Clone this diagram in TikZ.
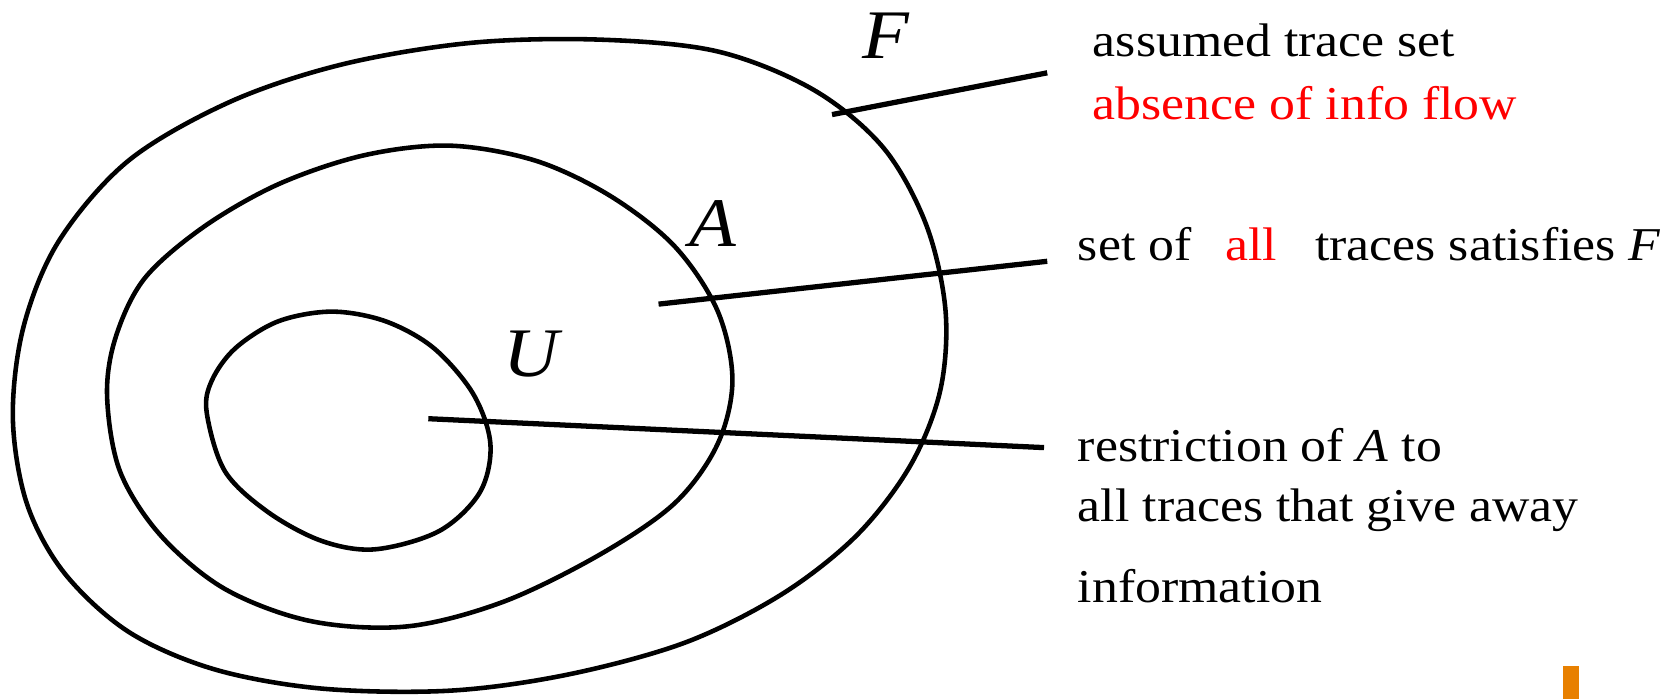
\documentclass[tikz,border=0pt]{standalone}
\usepackage{fontspec}
\setmainfont{Liberation Serif}[FakeStretch=1.1]
\usetikzlibrary{positioning}
\definecolor{markorange}{RGB}{232,128,0}

\begin{document}
\begin{tikzpicture}[
    x=0.010708cm, y=-0.010708cm,
    region/.style = {line width=1.3pt},
    pointer/.style = {line width=1.5pt},
    note/.style = {anchor=base west, inner sep=0pt, font=\fontsize{13.4}{16}\selectfont},
    setname/.style = {anchor=base west, inner sep=0pt, font=\fontsize{19.8}{22}\selectfont\itshape}]

    \useasboundingbox (0,0) rectangle (1568,653);

    % nested sets F, A, U
    \draw[region] plot[smooth cycle, tension=0.55] coordinates {(12,390) (25,470) (60,535) (120,590) (200,625) (300,643) (420,645) (530,630) (640,600) (730,555) (800,500) (850,435) (878,365) (883,290) (865,210) (825,138) (760,84) (670,48) (560,37) (440,40) (320,60) (215,95) (120,150) (55,225) (22,305)};
    \draw[region] plot[smooth cycle, tension=0.55] coordinates {(100,370) (112,440) (150,500) (210,550) (290,580) (380,585) (470,562) (560,518) (630,470) (670,415) (684,355) (670,290) (630,230) (570,183) (500,150) (420,136) (340,145) (260,172) (190,212) (135,260) (108,315)};
    \draw[region] plot[smooth cycle, tension=0.55] coordinates {(193,385) (210,440) (250,478) (300,505) (350,513) (410,496) (448,460) (458,415) (442,368) (405,325) (360,300) (310,291) (260,300) (220,325) (198,355)};

    \node[setname] (F) at (805,55) {F};
    \node[setname] (A) at (643,230) {A};
    \node[setname] (U) at (470,352) {U};

    % explanations
    \node[note] (assumed) at (1020,53) {assumed trace set};
    \node[note, text=red] (absence) at (1020,112) {absence of info flow};
    \node[note] (allset) at (1006,243) {set of\hspace{0.34cm}\textcolor{red}{all}\hspace{0.38cm}traces satisfies \textit{F}};
    \node[note] (restrict) at (1006,431) {restriction of \textit{A} to};
    \node[note] (giveaway) at (1006,487) {all traces that give away};
    \node[note] (info) at (1006,563) {information};

    % pointers
    \coordinate (Ftip) at (777,107);
    \coordinate (Fend) at (978,68);
    \coordinate (Atip) at (615,284);
    \coordinate (Aend) at (978,244);
    \coordinate (Utip) at (400,391);
    \coordinate (Uend) at (975,418);
    \draw[pointer] (Ftip) -- (Fend);
    \draw[pointer] (Atip) -- (Aend);
    \draw[pointer] (Utip) -- (Uend);

    \fill[markorange] (1460,622) rectangle (1475,653);
\end{tikzpicture}
\end{document}
